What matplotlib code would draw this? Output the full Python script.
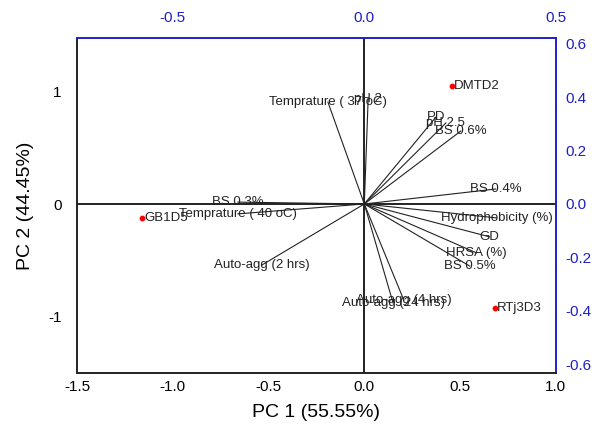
import matplotlib
matplotlib.use("Agg")
import matplotlib.pyplot as plt

plt.rcParams['font.family'] = ['Liberation Sans', 'DejaVu Sans']

# sample scores (PC1, PC2)
muestras = ["DMTD2", "GB1D5", "RTj3D3"]
pc1 = [0.46, -1.16, 0.68]
pc2 = [1.049, -0.124, -0.924]

# variable loadings (top / right axes)
variables = ["Temprature ( 37 oC)", "pH 2", "PD", "pH 2.5", "BS 0.6%", "BS 0.4%",
             "Hydrophobicity (%)", "GD", "HRSA (%)", "BS 0.5%", "Auto-agg (4 hrs)",
             "Auto-agg (24 hrs)", "Auto-agg (2 hrs)", "Temprature ( 40 oC)", "BS 0.3%"]
carga1 = [-0.095, 0.01, 0.187, 0.213, 0.252, 0.343, 0.345, 0.327, 0.293, 0.275,
          0.103, 0.075, -0.267, -0.33, -0.33]
carga2 = [0.381, 0.392, 0.325, 0.303, 0.273, 0.056, -0.052, -0.123, -0.183, -0.232,
          -0.359, -0.37, -0.228, -0.037, 0.007]

azul = '#1f1fc8'

fig = plt.figure(figsize=(5.92, 4.25), dpi=100)
pos = [0.130, 0.1224, 0.809, 0.789]
ax = fig.add_axes(pos)
ax.set_xlim(-1.5, 1.0)
ax.set_ylim(-1.5, 1.48)
ax.set_xticks([-1.5, -1.0, -0.5, 0.0, 0.5, 1.0])
ax.set_xticklabels(["-1.5", "-1.0", "-0.5", "0.0", "0.5", "1.0"])
ax.set_yticks([-1, 0, 1])
ax.set_yticklabels(["-1", "0", "1"])
ax.tick_params(axis='x', length=0, labelsize=11, pad=5)
ax.tick_params(axis='y', length=0, labelsize=11, pad=11)
for lado in ['left', 'bottom']:
    ax.spines[lado].set_linewidth(1.4)
    ax.spines[lado].set_color('#222222')
for lado in ['top', 'right']:
    ax.spines[lado].set_linewidth(1.4)
    ax.spines[lado].set_color(azul)
ax.axhline(0, color='#222222', lw=1.4, zorder=1)
ax.axvline(0, color='#222222', lw=1.4, zorder=1)
ax.set_xlabel("PC 1 (55.55%)", fontsize=14, labelpad=7)
ax.set_ylabel("PC 2 (44.45%)", fontsize=14, labelpad=10)

ax.scatter(pc1, pc2, s=10, color='red', zorder=4)
for n, x, y in zip(muestras, pc1, pc2):
    ax.text(x + 0.01, y, n, fontsize=9.5, va='center', ha='left', color='#222222')

# loadings axes
ax2 = fig.add_axes(pos, frameon=False)
ax2.patch.set_alpha(0)
ax2.set_xlim(-0.75, 0.5)
ax2.set_ylim(-0.632, 0.622)
ax2.xaxis.tick_top()
ax2.yaxis.tick_right()
ax2.set_xticks([-0.5, 0.0, 0.5])
ax2.set_xticklabels(["-0.5", "0.0", "0.5"])
ax2.set_yticks([-0.6, -0.4, -0.2, 0.0, 0.2, 0.4, 0.6])
ax2.set_yticklabels(["-0.6", "-0.4", "-0.2", "0.0", "0.2", "0.4", "0.6"])
ax2.tick_params(axis='x', length=0, labelsize=11, colors=azul, pad=9)
ax2.tick_params(axis='y', length=0, labelsize=11, colors=azul, pad=7)

for n, x, y in zip(variables, carga1, carga2):
    ax2.plot([0, x], [0, y], color='#222222', lw=0.8)
    ax2.text(x, y, n, fontsize=9.5, ha='center', va='center', color='#222222')

fig.savefig("out.png", dpi=100)
